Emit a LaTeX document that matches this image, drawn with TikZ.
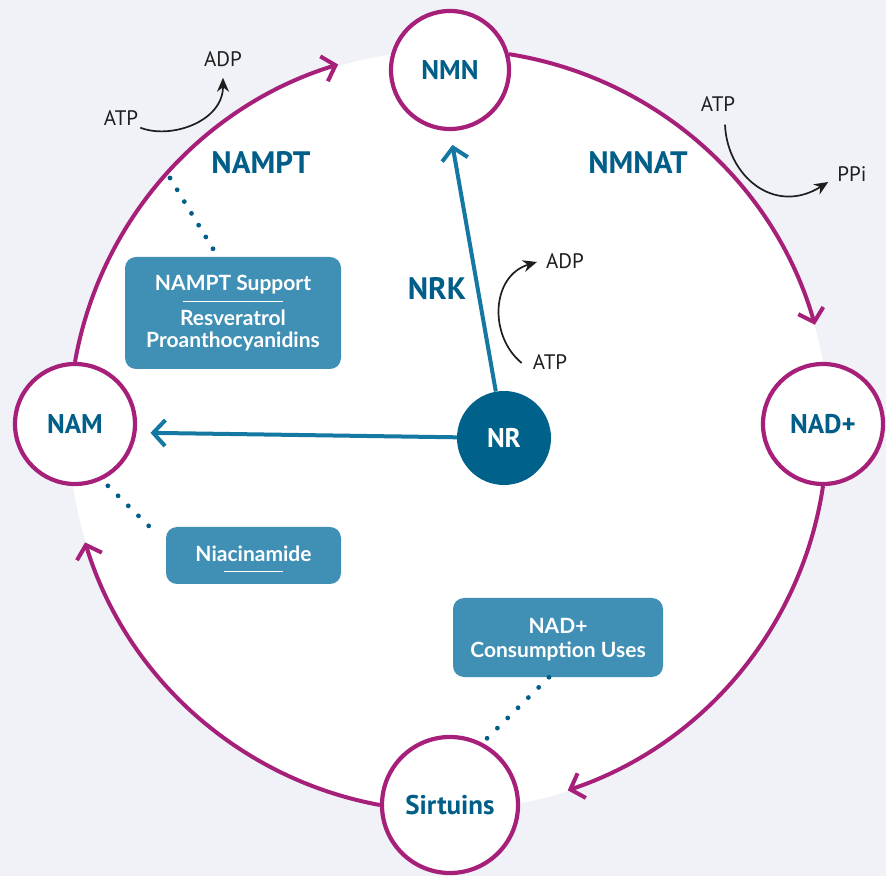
\documentclass[tikz,border=0pt]{standalone}
\usepackage{fontspec}
\usetikzlibrary{arrows.meta}
\newfontfamily\ptsans{PT Sans}
\newfontfamily\lato{Lato}
\definecolor{bg}{RGB}{240,242,248}
\definecolor{cyc}{RGB}{166,32,122}
\definecolor{navy}{RGB}{0,94,136}
\definecolor{nrblue}{RGB}{0,97,138}
\definecolor{arrblue}{RGB}{20,120,163}
\definecolor{boxblue}{RGB}{64,144,182}
\definecolor{ink}{RGB}{30,30,30}

\begin{document}
\begin{tikzpicture}[x=1pt,y=1pt,
  met/.style={circle,draw=cyc,line width=4.2pt,fill=white,minimum size=#1,inner sep=0pt,
    text=navy,font=\ptsans\bfseries\fontsize{27}{27}\selectfont},
  met/.default=120pt,
  cycarrow/.style={draw=cyc,line width=4pt,-{Straight Barb[length=12pt,width=26pt]}},
  nrarrow/.style={draw=arrblue,line width=4pt,shorten >=14pt,-{Straight Barb[length=12pt,width=26pt]}},
  dotline/.style={draw=navy,line width=4.8pt,line cap=round,dash pattern=on 0pt off #1},
  dotline/.default=14pt,
  enz/.style={text=navy,font=\ptsans\bfseries\fontsize{31}{31}\selectfont},
  small/.style={text=ink,inner sep=2pt,font=\ptsans\fontsize{21}{21}\selectfont},
  rxn/.style={draw=ink,line width=1.7pt,-{Stealth[length=14pt,width=12pt]}},
  infobox/.style={fill=boxblue,rounded corners=11pt,text=white,align=center,inner sep=0pt,
    font=\lato\bfseries\fontsize{21}{22}\selectfont}]

  \fill[bg] (0,0) rectangle (886,876);
  \useasboundingbox (0,0) rectangle (886,876);
  \fill[white] (449,446) circle[radius=380];

  \node[met=118pt] (nmn) at (450,806) {NMN};
  \node[met] (nam) at (75,452) {NAM};
  \node[met] (nad) at (823,452) {NAD+};
  \node[met=136pt] (sirt) at (450,71) {Sirtuins};
  \node[circle,fill=nrblue,minimum size=94pt,inner sep=0pt,text=white,
    font=\ptsans\bfseries\fontsize{27}{27}\selectfont] (nr) at (504,438) {NR};

  \draw[cycarrow] (nam.north) arc[start angle=170,end angle=107,radius=380];
  \draw[cycarrow] (nmn.15) arc[start angle=81,end angle=16,radius=380];
  \draw[cycarrow] (nad.south) arc[start angle=-8.5,end angle=-71.5,radius=380];
  \draw[cycarrow] (sirt.west) arc[start angle=259.6,end angle=197,radius=380];

  \draw[nrarrow] (nr) -- (nmn.south);
  \draw[nrarrow] (nr) -- (nam.-8);

  \node[enz] (nampt) at (261,713) {NAMPT};
  \node[enz] (nmnat) at (638,713) {NMNAT};
  \node[enz] (nrk) at (437,587) {NRK};

  \node[infobox,minimum width=216pt,minimum height=112pt] (b1) at (233,563)
    {NAMPT Support\\[-10pt]\rule{100pt}{1.3pt}\\[1pt]Resveratrol\\Proanthocyanidins};
  \node[infobox,minimum width=175pt,minimum height=57pt] (b2) at (253.5,320.5)
    {\rule{0pt}{23pt}Niacinamide\\[-11pt]\rule{59pt}{1.3pt}};
  \node[infobox,minimum width=210pt,minimum height=79pt] (b3) at (558,238.5)
    {\rule{0pt}{19pt}NAD+\\[2pt]Consumption Uses};

  \coordinate (d1) at (170,698);
  \draw[dotline=13.8pt] (d1) -- ([shift={(-20,8)}]b1.north);
  \draw[dotline=14.3pt] (nam) ++(-62:70) -- ([shift={(-7,-9)}]b2.north west);
  \draw[dotline=14.5pt] ([xshift=-9pt]b3.south) -- ([shift={(61:76)}]sirt.center);

  \node[small] (atp1) at (121,758) {ATP};
  \node[small] (adp1) at (223,817) {ADP};
  \node[small] (atp2) at (718,772) {ATP};
  \node[small] (ppi) at (852,702) {PPi};
  \node[small] (atp3) at (550,514) {ATP};
  \node[small] (adp3) at (565,615) {ADP};

  \draw[rxn] (atp1.south east) .. controls +(30,-12) and +(0,-44) .. ([yshift=-9pt]adp1.south);
  \draw[rxn] ([shift={(7,-11)}]atp2.south) .. controls +(2,-51) and +(-54,-34) .. ([shift={(-7,-8)}]ppi.west);
  \draw[rxn] ([shift={(-9,-1)}]atp3.west) .. controls +(-33,27) and +(-46,-14) .. ([shift={(-7,-1)}]adp3.west);
\end{tikzpicture}
\end{document}
